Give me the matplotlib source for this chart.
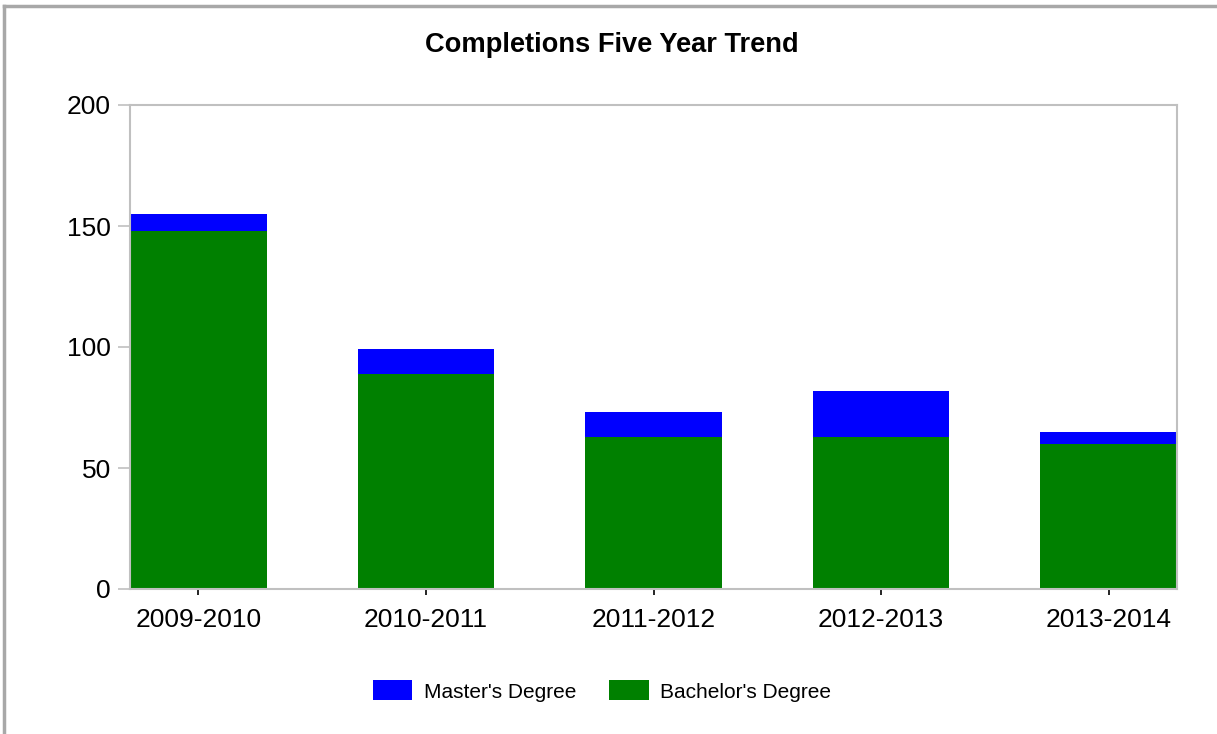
import numpy as np
import matplotlib
matplotlib.use("Agg")
import matplotlib.pyplot as plt
from matplotlib.lines import Line2D

plt.rcParams['font.family'] = ['Liberation Sans', 'DejaVu Sans']

years = ["2009-2010", "2010-2011", "2011-2012", "2012-2013", "2013-2014"]
bachelors = [148, 89, 63, 63, 60]
masters = [7, 10, 10, 19, 5]

fig = plt.figure(figsize=(12.17, 7.34), dpi=100)
ax = fig.add_axes([130 / 1217, 1 - 589 / 734, 1047 / 1217, 484 / 734])

x = np.arange(len(years))
ax.bar(x, bachelors, width=0.6, color="#008000", label="Bachelor's Degree", zorder=2)
ax.bar(x, masters, width=0.6, bottom=bachelors, color="#0000FF", label="Master's Degree", zorder=2)

ax.set_xlim(-0.3, 4.3)
ax.set_ylim(0, 200)
ax.set_yticks([0, 50, 100, 150, 200])
ax.set_xticks(x)
ax.set_xticklabels(years)

for s in ax.spines.values():
    s.set_color("#C0C0C0")
    s.set_linewidth(1.5)

ax.tick_params(axis="y", length=8.6, width=1.2, color="#C0C0C0", pad=5, labelsize=19)
ax.tick_params(axis="x", length=4.5, width=1.2, color="#000000", pad=9, labelsize=19)

fig.text(612 / 1217, 1 - 45 / 734, "Completions Five Year Trend", ha="center", va="center",
         fontsize=19.6, fontweight="bold")

handles, labels = ax.get_legend_handles_labels()
leg = fig.legend(handles[::-1], labels[::-1], loc="center", bbox_to_anchor=(602 / 1217, 1 - 691 / 734),
                 ncol=2, frameon=False, fontsize=15, handlelength=1.9, handleheight=1.1,
                 handletextpad=0.55, columnspacing=1.6)

# outer frame (left and top edges visible)
fig.add_artist(Line2D([4 / 1217, 4 / 1217], [0, 1 - 6 / 734], transform=fig.transFigure,
                      color="#A8A8A8", linewidth=2.5))
fig.add_artist(Line2D([4 / 1217, 1], [1 - 6 / 734, 1 - 6 / 734], transform=fig.transFigure,
                      color="#A8A8A8", linewidth=2.5))

fig.savefig("out.png", dpi=100)
